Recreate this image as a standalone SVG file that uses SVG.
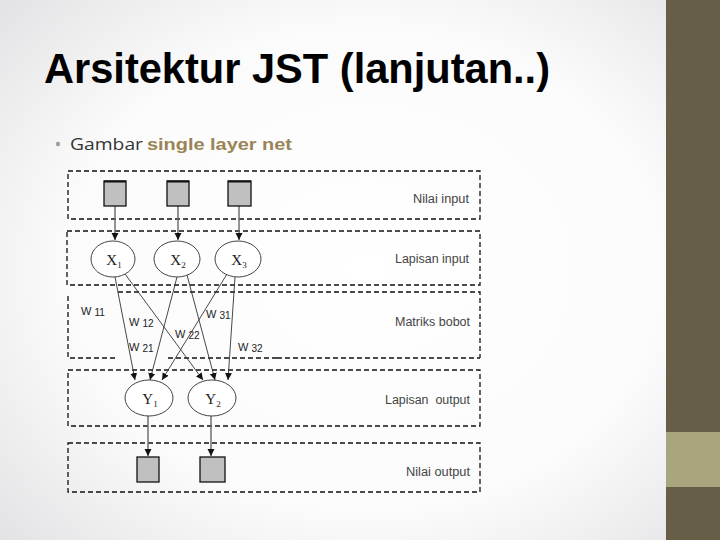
<svg xmlns="http://www.w3.org/2000/svg" width="720" height="540" viewBox="0 0 720 540">
<defs>
<radialGradient id="bg" cx="0.55" cy="0.5" r="0.75">
<stop offset="0" stop-color="#ffffff"/>
<stop offset="0.6" stop-color="#fbfbfc"/>
<stop offset="1" stop-color="#e2e2e4"/>
</radialGradient>
<marker id="ah" markerWidth="8" markerHeight="8" refX="7" refY="4" orient="auto" markerUnits="userSpaceOnUse">
<path d="M0,0.5 L7,4 L0,7.5 Z" fill="#111"/>
</marker>
<style>
.box{fill:none;stroke:#111;stroke-width:1.3;stroke-dasharray:5,3}
.sq{fill:#c0c0c0;stroke:#111;stroke-width:1.3}
.el{fill:#fff;stroke:#444;stroke-width:1}
.ar{stroke:#666;stroke-width:1.4;fill:none;marker-end:url(#ah)}
.wl{stroke:#333;stroke-width:0.9;fill:none;marker-end:url(#ah)}
.lbl{font-family:"Liberation Sans",Arial,sans-serif;font-size:12px;fill:#444;text-anchor:end}
.nd{font-family:"Liberation Serif","Times New Roman",serif;font-size:15px;fill:#222;text-anchor:middle}
.w{font-family:"Liberation Sans",Arial,sans-serif;font-size:11px;fill:#222}
</style>
</defs>
<rect x="0" y="0" width="666" height="540" fill="url(#bg)"/>
<rect x="666" y="0" width="54" height="540" fill="#665e47"/>
<rect x="666" y="432" width="54" height="55" fill="#a9a67f"/>

<text x="44" y="83" font-family="Liberation Sans,Arial,sans-serif" font-weight="bold" font-size="43" fill="#000" textLength="506" lengthAdjust="spacingAndGlyphs">Arsitektur JST (lanjutan..)</text>
<circle cx="58" cy="144" r="2.2" fill="#a0a0a0"/>
<text x="70" y="150" font-family="Open Sans,Liberation Sans,sans-serif" font-size="17" fill="#333" textLength="73" lengthAdjust="spacingAndGlyphs">Gambar</text>
<text x="147" y="150" font-family="Liberation Sans,Arial,sans-serif" font-weight="bold" font-size="17" fill="#9a8455" textLength="145" lengthAdjust="spacingAndGlyphs">single layer net</text>

<g id="layers">
<rect class="box" x="68" y="171" width="412" height="48"/>
<rect class="box" x="67" y="231" width="413" height="54"/>
<path class="box" d="M118,292 H480 V358 M68,296 V358 H115 M168,358 H277"/>
<path class="box" d="M277,358 H480" stroke="#bbb"/>
<rect class="box" x="68" y="370" width="412" height="56"/>
<rect class="box" x="68" y="443" width="412" height="49"/>
<text class="lbl" x="469" y="203" textLength="56" lengthAdjust="spacingAndGlyphs">Nilai input</text>
<text class="lbl" x="469" y="263" textLength="74" lengthAdjust="spacingAndGlyphs">Lapisan input</text>
<text class="lbl" x="470" y="326" textLength="75" lengthAdjust="spacingAndGlyphs">Matriks bobot</text>
<text class="lbl" x="470" y="404" textLength="85" lengthAdjust="spacingAndGlyphs" xml:space="preserve">Lapisan  output</text>
<text class="lbl" x="470" y="476" textLength="64" lengthAdjust="spacingAndGlyphs">Nilai output</text>
</g>

<g id="connectors">
<line class="ar" x1="115" y1="206" x2="115" y2="240"/>
<line class="ar" x1="178" y1="206" x2="178" y2="240"/>
<line class="ar" x1="239" y1="206" x2="239" y2="240"/>
<line class="wl" x1="115" y1="277" x2="135" y2="380"/>
<line class="wl" x1="125" y1="274" x2="203" y2="380"/>
<line class="wl" x1="177" y1="277" x2="150" y2="380"/>
<line class="wl" x1="187" y1="275" x2="215" y2="380"/>
<line class="wl" x1="227" y1="274" x2="162" y2="380"/>
<line class="wl" x1="235" y1="277" x2="228" y2="380"/>
<line class="ar" x1="148" y1="416" x2="148" y2="456"/>
<line class="ar" x1="211" y1="416" x2="211" y2="456"/>
</g>

<g id="weights">
<text class="w" x="81" y="315">W<tspan dx="3" dy="1" font-size="10">11</tspan></text>
<text class="w" x="129" y="326">W<tspan dx="3" dy="1" font-size="10">12</tspan></text>
<text class="w" x="206" y="318">W<tspan dx="3" dy="1" font-size="10">31</tspan></text>
<text class="w" x="175" y="338">W<tspan dx="3" dy="1" font-size="10">22</tspan></text>
<text class="w" x="129" y="351">W<tspan dx="3" dy="1" font-size="10">21</tspan></text>
<text class="w" x="238" y="351">W<tspan dx="3" dy="1" font-size="10">32</tspan></text>
</g>

<g id="in1"><rect class="sq" x="104" y="181" width="22" height="25"/><line x1="104" y1="181.5" x2="126" y2="181.5" stroke="#111" stroke-width="2"/></g>
<g id="in2"><rect class="sq" x="167" y="181" width="22" height="25"/><line x1="167" y1="181.5" x2="189" y2="181.5" stroke="#111" stroke-width="2"/></g>
<g id="in3"><rect class="sq" x="228" y="181" width="23" height="25"/><line x1="228" y1="181.5" x2="251" y2="181.5" stroke="#111" stroke-width="2"/></g>

<g id="x1"><ellipse class="el" cx="113" cy="259" rx="22" ry="18"/><text class="nd" x="114" y="265">X<tspan font-size="9" dy="3">1</tspan></text></g>
<g id="x2"><ellipse class="el" cx="177" cy="259" rx="23" ry="18"/><text class="nd" x="178" y="265">X<tspan font-size="9" dy="3">2</tspan></text></g>
<g id="x3"><ellipse class="el" cx="238" cy="259" rx="23" ry="18"/><text class="nd" x="239" y="265">X<tspan font-size="9" dy="3">3</tspan></text></g>

<g id="y1"><ellipse class="el" cx="149" cy="398" rx="24" ry="18"/><text class="nd" x="150" y="404">Y<tspan font-size="9" dy="3">1</tspan></text></g>
<g id="y2"><ellipse class="el" cx="212" cy="398" rx="24" ry="18"/><text class="nd" x="213" y="404">Y<tspan font-size="9" dy="3">2</tspan></text></g>

<g id="out1"><rect class="sq" x="137" y="457" width="22" height="25"/></g>
<g id="out2"><rect class="sq" x="200" y="457" width="25" height="25"/></g>
</svg>
